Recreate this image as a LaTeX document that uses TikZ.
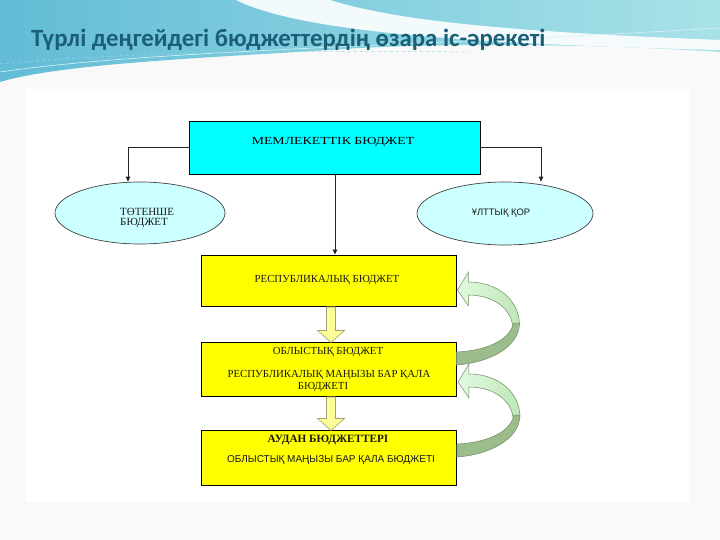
\documentclass[tikz,border=0pt]{standalone}
\usepackage{fontspec}
\setmainfont{Liberation Serif}
\newfontfamily\titlefont{Carlito}
\newfontfamily\sansf{Liberation Sans}
\newfontfamily\serifwide[FakeStretch=1.28]{Liberation Serif}
\usetikzlibrary{arrows.meta,shapes.geometric,calc}
\definecolor{bggray}{HTML}{F9F9F9}
\definecolor{tealL}{HTML}{62BCD6}
\definecolor{tealR}{HTML}{A8E2E8}
\definecolor{titlecol}{HTML}{1A5F77}
\definecolor{cyanbox}{HTML}{00FFFF}
\definecolor{ellfill}{HTML}{CCFFFF}
\definecolor{ybox}{HTML}{FFFF00}
\definecolor{paley}{HTML}{FFFF99}
\definecolor{arrowedge}{HTML}{A3A36A}
\definecolor{gdark}{HTML}{9CBC8C}
\definecolor{glight}{HTML}{E2FADF}
\definecolor{glight2}{HTML}{BFE6B9}
\definecolor{gedge}{HTML}{6F8F66}
\tikzset{
  conn/.style={draw=black!85, line width=0.8pt, -{Triangle[length=5pt,width=4.5pt]}},
  yelbox/.style={draw=black, line width=0.9pt, fill=ybox, minimum width=255pt, inner sep=0pt},
  ell/.style={ellipse, draw=black!75, line width=0.7pt, fill=ellfill, inner sep=0pt},
  sertext/.style={font=\fontsize{10.8}{12}\selectfont, inner sep=0pt, text=black!90},
  sanstext/.style={font=\sansf\fontsize{10}{12}\selectfont, inner sep=0pt, text=black!90},
  downblk/.pic={
    \draw[draw=arrowedge, fill=paley, line width=0.6pt]
      (-4.5,0) -- (-4.5,#1-12) -- (-13.5,#1-12) -- (0,#1) -- (13.5,#1-12) -- (4.5,#1-12) -- (4.5,0) -- cycle;
  },
  greenarc/.pic={
    \shade[left color=glight, right color=glight2, draw=gedge, line width=0.5pt]
      (0,0) -- (11,-18) -- (11,-8) .. controls (40,-8) and (62,10) .. (62,35)
      -- (55,35) .. controls (53,18) and (35,5) .. (11,5) -- (11,16) -- cycle;
    \fill[gdark, draw=gedge, line width=0.5pt]
      (62,33) .. controls (62,58) and (30,73) .. (-1,75) -- (-1,62)
      .. controls (25,61) and (52,52) .. (56,33) -- cycle;
  }
}
\begin{document}
\begin{tikzpicture}[x=1pt,y=-1pt]
\useasboundingbox (0,0) rectangle (720,540);
\fill[bggray] (0,0) rectangle (720,540);
\fill[white] (26,89) rectangle (689,502);
% top wave
\shade[left color=tealL, right color=tealR]
  (0,0) -- (720,0) -- (720,52) .. controls (600,44) and (430,42) .. (330,50)
  .. controls (200,58) and (60,64) .. (0,82) -- cycle;
\fill[white, opacity=0.9]
  (236,0) .. controls (300,32) and (470,44) .. (720,50) -- (720,40)
  .. controls (520,32) and (400,22) .. (330,0) -- cycle;
\draw[white!55!tealR, line width=0.6pt] (0,72) .. controls (150,50) and (420,46) .. (720,28);
\draw[white!40!tealL, line width=0.5pt, dashed] (0,64) .. controls (120,52) and (300,50) .. (470,52);

\node[anchor=base west, font=\titlefont\bfseries\fontsize{24.8}{28}\selectfont, text=titlecol, inner sep=0pt]
  (title) at (31,47) {Түрлі деңгейдегі бюджеттердің өзара іс-әрекеті};

% nodes
\node[draw=black, line width=0.8pt, fill=cyanbox, minimum width=291pt, minimum height=53pt, inner sep=0pt]
  (state) at (335,147.5) {};
\node[font=\serifwide\fontsize{10.8}{12}\selectfont, inner sep=0pt] (statet) at (333,142) {МЕМЛЕКЕТТІК БЮДЖЕТ};

\node[ell, minimum width=170pt, minimum height=62pt] (tot) at (140,213) {};
\node[sertext, anchor=west, align=left, font=\fontsize{11}{10.5}\selectfont] (tott) at (120,218) {ТӨТЕНШЕ\\БЮДЖЕТ};

\node[ell, minimum width=176pt, minimum height=63pt] (qor) at (505,213.5) {};
\node[sanstext, font=\sansf\fontsize{9.4}{11}\selectfont] (qort) at (501,213) {ҰЛТТЫҚ ҚОР};

\node[yelbox, minimum height=51pt] (rep) at (328.5,280.5) {};
\node[sertext] (rept) at (327,280) {РЕСПУБЛИКАЛЫҚ БЮДЖЕТ};

\node[yelbox, minimum height=54pt] (obl) at (329,369) {};
\node[sertext] (oblt1) at (328,352) {ОБЛЫСТЫҚ БЮДЖЕТ};
\node[sertext] (oblt2) at (329,375) {РЕСПУБЛИКАЛЫҚ МАҢЫЗЫ БАР ҚАЛА};
\node[sertext] (oblt3) at (323,387) {БЮДЖЕТІ};

\node[yelbox, minimum height=55pt] (aud) at (329,457.5) {};
\node[sertext, font=\bfseries\fontsize{11.2}{12}\selectfont] (audt1) at (328,440) {АУДАН БЮДЖЕТТЕРІ};
\node[sanstext] (audt2) at (331,460) {ОБЛЫСТЫҚ МАҢЫЗЫ БАР ҚАЛА БЮДЖЕТІ};

% connectors
\coordinate (lx) at (128,0);
\coordinate (rx) at (541,0);
\draw[conn] (state.west) -| (lx |- tot.north);
\draw[conn] (state.east) -| (rx |- qor.north);
\draw[conn] (state.south) -- (state.south |- rep.north);

% block arrows
\coordinate (d1) at ($(rep.south)+(2.5,0.5)$);
\coordinate (d2) at ($(obl.south)+(2,0.5)$);
\pic at (d1) {downblk=35.5};
\pic at (d2) {downblk=33.5};

% curved green arrows
\coordinate (g1) at ($(rep.east)+(1,9.5)$);
\coordinate (g2) at ($(obl.east)+(1,13)$);
\pic at (g1) {greenarc};
\pic at (g2) {greenarc};
\end{tikzpicture}
\end{document}
